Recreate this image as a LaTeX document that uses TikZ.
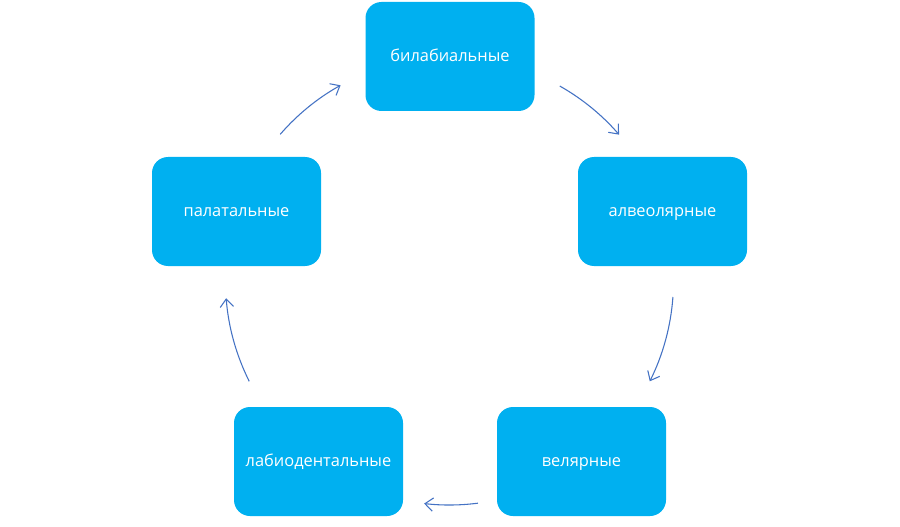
\documentclass[tikz,border=0pt]{standalone}
\usepackage{fontspec}
\setmainfont{Open Sans}
\usetikzlibrary{arrows.meta,calc}
\definecolor{boxblue}{HTML}{00B0F0}
\definecolor{arrblue}{HTML}{4472C4}
\begin{document}
\begin{tikzpicture}[x=0.75pt,y=0.75pt,
  stepbox/.style={fill=boxblue,rounded corners=12pt,minimum width=126.75pt,minimum height=81.75pt,
    text=white,font=\fontsize{12.3}{14}\selectfont,inner sep=0pt,text height=1.6ex,text depth=0.2ex},
  cyc/.style={draw=arrblue,line width=0.8pt,-{Straight Barb[length=6pt,width=10pt,line width=0.8pt]}}]
\useasboundingbox (0,0) rectangle (900,526);
\fill[white] (0,0) rectangle (900,526);
\node[stepbox] (b1) at (450,469.5) {билабиальные};
\node[stepbox] (b2) at (662.5,314.5) {алвеолярные};
\node[stepbox] (b3) at (581.5,64.5) {велярные};
\node[stepbox] (b4) at (318.5,64.5) {лабиодентальные};
\node[stepbox] (b5) at (236.5,314.5) {палатальные};
\coordinate (c) at (449.5,245);
\coordinate (s1) at ($(c)+(60.5:224)$);
\coordinate (s2) at ($(c)+(-4.1:224)$);
\coordinate (s3) at ($(c)+(-82.7:224)$);
\coordinate (s4) at ($(c)+(-153.4:224)$);
\coordinate (s5) at ($(c)+(139.1:224)$);
\draw[cyc] (s1) arc[start angle=60.5,end angle=40.8,radius=224];
\draw[cyc] (s2) arc[start angle=-4.1,end angle=-26.6,radius=224];
\draw[cyc] (s3) arc[start angle=-82.7,end angle=-96.5,radius=224];
\draw[cyc] (s4) arc[start angle=-153.4,end angle=-175.6,radius=224];
\draw[cyc] (s5) arc[start angle=139.1,end angle=119.1,radius=224];
\end{tikzpicture}
\end{document}
